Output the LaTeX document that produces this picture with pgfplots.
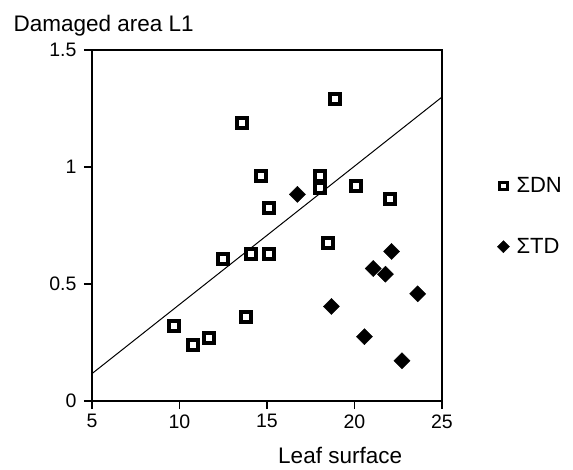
\documentclass[border=0pt]{standalone}
\usepackage{pgfplots}
\pgfplotsset{compat=1.18}
\usepackage{fontspec}
\setmainfont{Liberation Sans}
\newfontfamily\medfont{Liberation Sans}
\begin{document}
\begin{tikzpicture}
\path[use as bounding box] (-92pt,-68pt) rectangle (481pt,401pt);
\begin{axis}[
  scale only axis,
  width=350pt, height=351pt,
  xmin=5, xmax=25, ymin=0, ymax=1.5,
  xtick={5,10,15,20,25},
  ytick={0,0.5,1,1.5},
  yticklabels={0,0.5,1,1.5},
  tick pos=left,
  tick align=outside,
  major tick length=8pt,
  axis line style={line width=1.4pt},
  tick style={line width=1.2pt, black},
  /pgf/number format/assume math mode=true,
  ticklabel style={font=\medfont\fontsize{19.5}{22}\selectfont},
  xticklabel style={yshift=-2pt},
  yticklabel style={xshift=-4pt},
  every axis y label/.style={at={(axis description cs:-0.234,1.054)}, anchor=base west, font=\medfont\fontsize{22.5}{26}\selectfont},
  every axis x label/.style={at={(axis description cs:0.709,-0.178)}, anchor=base, font=\medfont\fontsize{22.5}{26}\selectfont},
  ylabel={Damaged area L1},
  xlabel={Leaf surface},
  legend style={at={(axis description cs:1.149,0.526)}, anchor=west, draw=none, fill=none,
    font=\medfont\fontsize{22}{26}\selectfont, row sep=40pt,
    nodes={inner xsep=7pt}},
  legend cell align=left,
  legend image code/.code={\draw[#1] plot coordinates {(0.15cm,0cm)};},
]
\addplot[only marks, mark=square, mark size=5pt, mark options={line width=4pt, black}, forget plot]
 coordinates {
 (9.69,0.322) (10.78,0.239) (11.68,0.268) (12.48,0.607) (13.59,1.186)
 (13.78,0.360) (14.08,0.630) (14.68,0.961) (15.11,0.825) (15.11,0.630)
 (18.0,0.961) (18.0,0.910) (18.49,0.676) (18.91,1.292) (20.10,0.917) (22.04,0.862)
 };
\addplot[only marks, mark=square*, mark size=5.7pt, mark options={rotate=45, black, fill=black}, forget plot]
 coordinates {
 (16.74,0.883) (18.68,0.404) (20.57,0.275) (21.07,0.566) (21.77,0.542)
 (22.12,0.639) (22.71,0.172) (23.61,0.458)
 };
\addplot[black, line width=1pt, forget plot] coordinates {(5,0.117) (25,1.299)};
\addlegendimage{only marks, mark=square, mark size=3.6pt, mark options={line width=3pt, black}}
\addlegendentry{ΣDN}
\addlegendimage{only marks, mark=square*, mark size=4.3pt, mark options={rotate=45, black, fill=black}}
\addlegendentry{ΣTD}
\end{axis}
\end{tikzpicture}
\end{document}
